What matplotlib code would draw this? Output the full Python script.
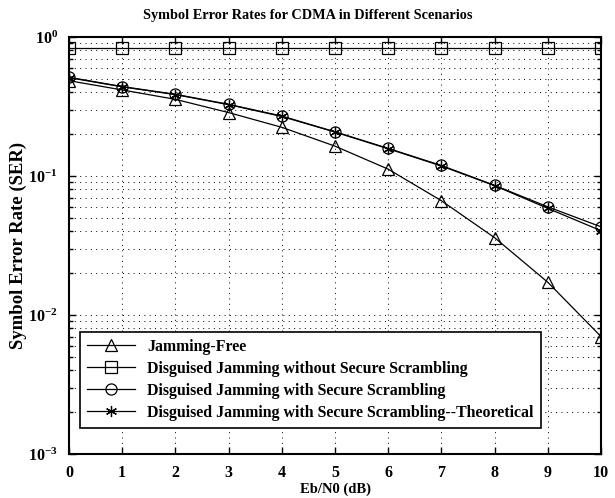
import matplotlib
matplotlib.use('Agg')
import matplotlib.pyplot as plt
import numpy as np

# --- data ---
ebn0 = [0, 1, 2, 3, 4, 5, 6, 7, 8, 9, 10]
ser_free = [0.485, 0.416, 0.356, 0.286, 0.224, 0.164, 0.112, 0.0664, 0.036, 0.0172, 0.0070]
ser_no_scramble = [0.83, 0.83, 0.83, 0.83, 0.83, 0.83, 0.83, 0.83, 0.83, 0.83, 0.83]
ser_scramble = [0.513, 0.44, 0.387, 0.328, 0.270, 0.208, 0.158, 0.119, 0.0857, 0.060, 0.0431]
ser_theory = [0.510, 0.438, 0.385, 0.326, 0.268, 0.207, 0.157, 0.118, 0.0852, 0.0585, 0.0404]

labels = ["Jamming-Free",
          "Disguised Jamming without Secure Scrambling",
          "Disguised Jamming with Secure Scrambling",
          "Disguised Jamming with Secure Scrambling--Theoretical"]
xticks = list(range(0, 11))
yticks = [1e-3, 1e-2, 1e-1, 1e0]
ytick_labels = [r"$10^{-3}$", r"$10^{-2}$", r"$10^{-1}$", r"$10^{0}$"]

plt.rcParams['font.family'] = ['Liberation Serif', 'DejaVu Serif']
plt.rcParams['font.weight'] = 'bold'
plt.rcParams['mathtext.fontset'] = 'custom'
plt.rcParams['mathtext.rm'] = 'Liberation Serif:bold'
plt.rcParams['mathtext.it'] = 'Liberation Serif:bold'
plt.rcParams['mathtext.bf'] = 'Liberation Serif:bold'

fig = plt.figure(figsize=(6.15, 4.98), dpi=100)
ax = fig.add_axes([69 / 615, 1 - 454 / 498, 532 / 615, 417 / 498])

mk = dict(color='black', linewidth=0.9, markersize=8, markerfacecolor='none',
          markeredgecolor='black', markeredgewidth=0.9)
ax.semilogy(ebn0, ser_free, marker='^', label=labels[0], **mk)
ax.semilogy(ebn0, ser_no_scramble, marker='s', label=labels[1], **mk)
ax.semilogy(ebn0, ser_scramble, marker='o', label=labels[2], **mk)
ax.semilogy(ebn0, ser_theory, marker=(6, 2, 0), label=labels[3], **mk)

ax.set_xlim(0, 10)
ax.set_ylim(1e-3, 1e0)
ax.set_xticks(xticks)
ax.set_xticklabels([str(t) for t in xticks])
ax.set_yticks(yticks)
ax.set_yticklabels(ytick_labels)
ax.yaxis.set_minor_locator(matplotlib.ticker.LogLocator(base=10, subs=np.arange(2, 10)))
ax.yaxis.set_minor_formatter(matplotlib.ticker.NullFormatter())

dots = (0, (1, 4.5))
ax.grid(True, which='major', color='black', linestyle=dots, linewidth=0.7)
ax.grid(True, which='minor', axis='y', color='black', linestyle=dots, linewidth=0.7)

ax.tick_params(which='both', direction='in', top=True, right=True, labelsize=11.5, width=1)
ax.tick_params(which='major', length=5)
ax.tick_params(axis='x', which='major', pad=8)
ax.tick_params(axis='y', which='major', pad=8)
ax.tick_params(which='minor', length=3)
for sp in ax.spines.values():
    sp.set_linewidth(1.5)

# title is centred on the figure, not the axes
fig.text(0.5, 1 - 15 / 498, "Symbol Error Rates for CDMA in Different Scenarios",
         fontsize=10.3, fontweight='bold', ha='center', va='center')
ax.set_xlabel("Eb/N0 (dB)", fontsize=10.5, fontweight='bold')
ax.xaxis.set_label_coords(0.5, -(483 - 454) / 417)
ax.set_ylabel("Symbol Error Rate (SER)", fontsize=13.5, fontweight='bold')
ax.yaxis.set_label_coords(-(69 - 27) / 532, 0.5)

leg = ax.legend(loc='lower left', bbox_to_anchor=(0.0207, 0.062), fontsize=11.4,
                fancybox=False, framealpha=1, edgecolor='black', handlelength=3.0,
                borderpad=0.45, labelspacing=0.38, borderaxespad=0)
leg.get_frame().set_linewidth(1.2)

fig.savefig("out.png", dpi=100)
